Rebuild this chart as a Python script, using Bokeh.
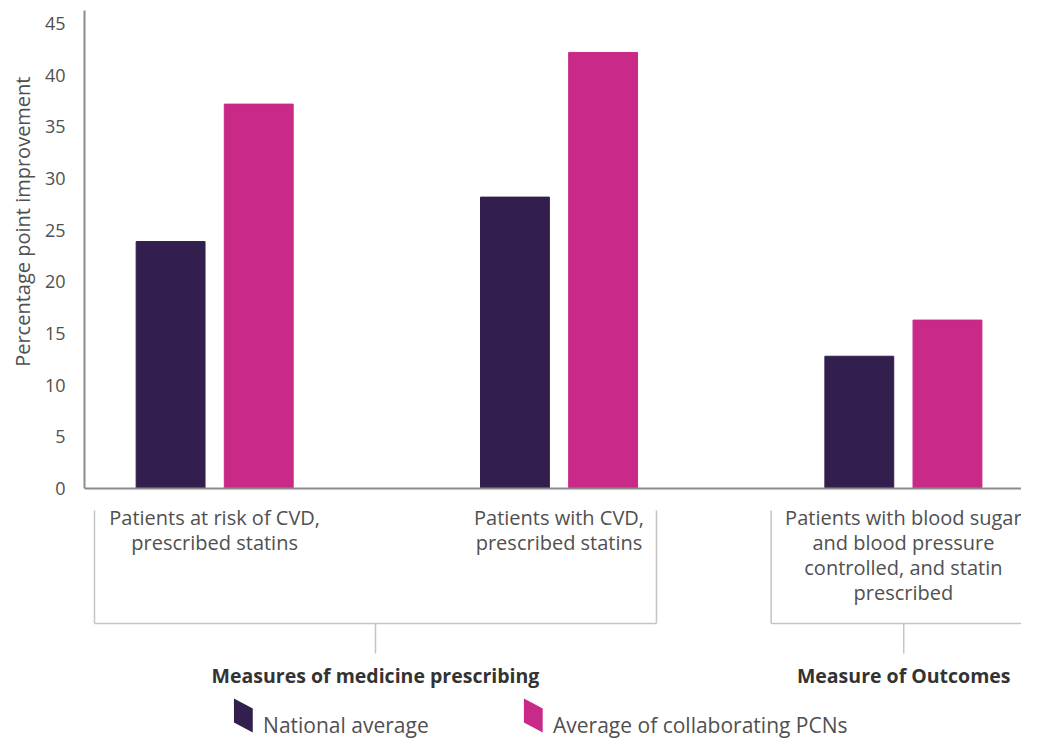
from bokeh.plotting import figure
from bokeh.models import ColumnDataSource, FixedTicker, Span, Title
from bokeh.transform import dodge
from bokeh.core.properties import value
from bokeh.embed import file_html
from bokeh.resources import INLINE

# ---- data ----
categories = ["Patients at risk of CVD,\nprescribed statins",
              "Patients with CVD,\nprescribed statins",
              "Patients with blood sugar\nand blood pressure\ncontrolled, and statin\nprescribed"]
national = [23.9, 28.2, 12.8]
pcns = [37.2, 42.2, 16.3]
series_names = ["National average", "Average of collaborating PCNs"]
group_names = ["Measures of medicine prescribing", "Measure of Outcomes"]
y_ticks = [0, 5, 10, 15, 20, 25, 30, 35, 40, 45]
y_title = "Percentage point improvement"

NAVY = "#331F4E"
MAGENTA = "#C92A87"
FONT = "Open Sans"
TXT = "#505050"

x_idx = list(range(len(categories)))
src = ColumnDataSource(dict(x=x_idx, national=national, pcns=pcns))

p = figure(width=1021, height=739, output_backend="svg", toolbar_location=None,
           x_range=(-0.378, 2.343), y_range=(-24.29, 46.26),
           x_axis_location=None,
           min_border_left=74, min_border_right=0, min_border_top=10, min_border_bottom=0)
p.outline_line_color = None
p.grid.visible = False
p.background_fill_color = "white"
p.border_fill_color = "white"

p.vbar(x=dodge("x", -0.128, range=p.x_range), top="national", width=0.2, bottom=0,
       source=src, color=NAVY)
p.vbar(x=dodge("x", 0.128, range=p.x_range), top="pcns", width=0.2, bottom=0,
       source=src, color=MAGENTA)

# y axis
ya = p.yaxis[0]
ya.bounds = (0, 46.26)
ya.ticker = FixedTicker(ticks=y_ticks)
ya.major_tick_line_color = None
ya.minor_tick_line_color = None
ya.axis_line_color = "#8c8c8c"
ya.axis_line_width = 2
ya.major_label_standoff = 13
ya.major_label_text_font = FONT
ya.major_label_text_font_size = "18px"
ya.major_label_text_color = TXT

# y axis title, placed like the reference (upper part of the axis)
p.add_layout(Title(text=y_title, align="right", offset=66, standoff=12,
                   text_font=FONT, text_font_size="20px", text_font_style="normal",
                   text_color=TXT), "left")

# baseline (x axis line)
p.add_layout(Span(location=0, dimension="width", line_color="#8c8c8c", line_width=2))

# category labels
p.text(x=x_idx, y=[-1.5] * 3, text=categories, text_align="center", text_baseline="top",
       text_font=value(FONT), text_font_size="20px", text_color=TXT,
       text_line_height=0.93)

# group brackets
br_left = [-0.349, 1.616]
br_right = [1.283, 2.386]
br_top, br_bot, tick_bot = -2.13, -13.06, -15.97
BR = "#c4c4c4"
for l, r in zip(br_left, br_right):
    c = (l + r) / 2
    p.segment(x0=[l, r, l, c], y0=[br_top, br_top, br_bot, br_bot],
              x1=[l, r, r, c], y1=[br_bot, br_bot, br_bot, tick_bot],
              line_color=BR, line_width=1.5)
centers = [(l + r) / 2 for l, r in zip(br_left, br_right)]
p.text(x=centers, y=[-18.1] * 2, text=group_names, text_align="center",
       text_baseline="middle", text_font=value(FONT), text_font_size="19.5px",
       text_font_style="bold", text_color="#333333")

# legend (slanted swatches)
leg_x = [0.056, 0.898]
sw = 0.0546
colors = [NAVY, MAGENTA]
p.patches(xs=[[x0, x0 + sw, x0 + sw, x0] for x0 in leg_x],
          ys=[[-20.32, -21.29, -23.61, -22.65] for _ in leg_x],
          color=colors, line_color=None)
p.text(x=[x0 + sw + 0.03 for x0 in leg_x], y=[-22.84] * 2, text=series_names,
       text_align="left", text_baseline="middle", text_font=value(FONT),
       text_font_size="21px", text_color=TXT)

open("out.html", "w").write(file_html(p, INLINE))
